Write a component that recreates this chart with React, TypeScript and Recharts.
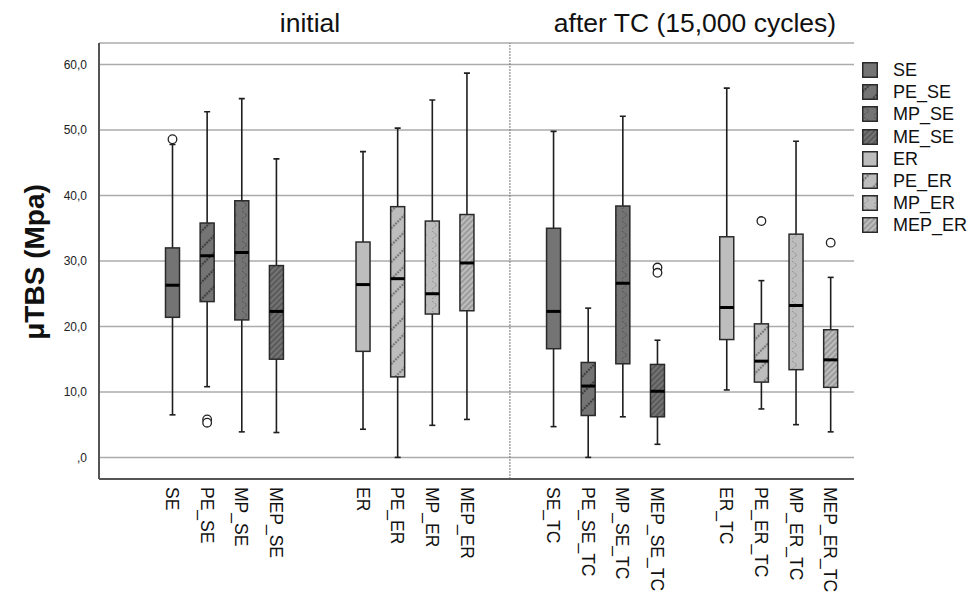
import React from 'react';
import { ComposedChart, Bar, XAxis, YAxis, CartesianGrid, ReferenceLine } from 'recharts';

const categories = [
  'SE', 'PE_SE', 'MP_SE', 'MEP_SE', 'ER', 'PE_ER', 'MP_ER', 'MEP_ER',
  'SE_TC', 'PE_SE_TC', 'MP_SE_TC', 'MEP_SE_TC', 'ER_TC', 'PE_ER_TC', 'MP_ER_TC', 'MEP_ER_TC',
];
const whiskerLow = [6.5, 10.8, 3.9, 3.8, 4.3, 0, 4.9, 5.8, 4.7, 0, 6.2, 2.0, 10.3, 7.4, 5.0, 3.9];
const q1 = [21.4, 23.8, 21.0, 15.0, 16.2, 12.3, 21.9, 22.4, 16.6, 6.4, 14.3, 6.2, 18.0, 11.5, 13.4, 10.7];
const median = [26.3, 30.8, 31.3, 22.3, 26.4, 27.3, 25.0, 29.7, 22.3, 10.9, 26.6, 10.1, 22.9, 14.7, 23.2, 14.9];
const q3 = [32.0, 35.8, 39.2, 29.3, 32.9, 38.3, 36.1, 37.1, 35.0, 14.5, 38.4, 14.2, 33.7, 20.4, 34.1, 19.5];
const whiskerHigh = [47.8, 52.8, 54.8, 45.6, 46.7, 50.3, 54.6, 58.7, 49.8, 22.8, 52.1, 17.9, 56.4, 27.0, 48.3, 27.5];
const outliers = [[48.6], [5.8, 5.3], [], [], [], [], [], [], [], [], [], [29.0, 28.2], [], [36.1], [], [32.8]];

const legendLabels = ['SE', 'PE_SE', 'MP_SE', 'ME_SE', 'ER', 'PE_ER', 'MP_ER', 'MEP_ER'];
const yTicks = [0, 10, 20, 30, 40, 50, 60];
const panelTitles = ['initial', 'after TC (15,000 cycles)'];

const FONT = '"Liberation Sans", Arial, sans-serif';

// slot layout of the clustered axis (each box sits on every 2nd slot)
const groupStarts = [0, 11, 22, 32];
const STEP = 2;
const SLOT_COUNT = 39;
const DIVIDER_SLOT = 20;

const kinds = ['solid', 'pe', 'mp', 'mep'];
const fillId = (style: number) => `${kinds[style % 4]}-${style < 4 ? 'dark' : 'light'}`;

const slotRows: any[] = Array.from({ length: SLOT_COUNT }, (_, s) => ({ name: `gap${s}` }));
categories.forEach((c, i) => {
  const s = groupStarts[Math.floor(i / 4)] + (i % 4) * STEP;
  slotRows[s] = {
    name: c,
    range: [whiskerLow[i], whiskerHigh[i]],
    q1: q1[i],
    med: median[i],
    q3: q3[i],
    out: outliers[i],
    style: i % 8,
  };
});

const tones = [
  { name: 'dark', base: '#747474', line: '#3f3f3f' },
  { name: 'light', base: '#bdbdbd', line: '#7a7a7a' },
];

function Patterns() {
  return (
    <defs>
      {tones.map((t) => (
        <React.Fragment key={t.name}>
          <pattern id={`solid-${t.name}`} width={4} height={4} patternUnits="userSpaceOnUse">
            <rect width={4} height={4} fill={t.base} />
          </pattern>
          <pattern id={`pe-${t.name}`} width={12} height={12} patternUnits="userSpaceOnUse" patternTransform="rotate(45)">
            <rect width={12} height={12} fill={t.base} />
            <line x1={6} y1={0} x2={6} y2={12} stroke={t.line} strokeWidth={2.2} strokeDasharray="2 1" />
          </pattern>
          <pattern id={`mp-${t.name}`} width={10} height={10} patternUnits="userSpaceOnUse">
            <rect width={10} height={10} fill={t.base} />
            <path d="M2 1 L7 5 L2 9" fill="none" stroke={t.line} strokeWidth={0.9} strokeDasharray="1 1" />
          </pattern>
          <pattern id={`mep-${t.name}`} width={4} height={4} patternUnits="userSpaceOnUse" patternTransform="rotate(45)">
            <rect width={4} height={4} fill={t.base} />
            <line x1={2} y1={0} x2={2} y2={4} stroke={t.line} strokeWidth={1} />
          </pattern>
        </React.Fragment>
      ))}
    </defs>
  );
}

function BoxShape(props: any) {
  const { x, y, width, height, payload } = props;
  if (!payload || !payload.range) return <g />;
  const [lo, hi] = payload.range;
  const top = Math.min(y, y + height);
  const bottom = Math.max(y, y + height);
  const toY = (v: number) => bottom - ((v - lo) / (hi - lo)) * (bottom - top);
  const cx = x + width / 2;
  const yHi = toY(hi);
  const yLo = toY(lo);
  const yQ3 = toY(payload.q3);
  const yQ1 = toY(payload.q1);
  const yMed = toY(payload.med);
  const stroke = '#1e1e1e';
  return (
    <g>
      <line x1={cx} x2={cx} y1={yHi} y2={yQ3} stroke={stroke} strokeWidth={1.6} />
      <line x1={cx} x2={cx} y1={yQ1} y2={yLo} stroke={stroke} strokeWidth={1.6} />
      <line x1={cx - 3} x2={cx + 3} y1={yHi} y2={yHi} stroke={stroke} strokeWidth={1.6} />
      <line x1={cx - 3} x2={cx + 3} y1={yLo} y2={yLo} stroke={stroke} strokeWidth={1.6} />
      <rect
        x={x}
        y={yQ3}
        width={width}
        height={yQ1 - yQ3}
        fill={`url(#${fillId(payload.style)})`}
        stroke="#2a2a2a"
        strokeWidth={1.5}
      />
      <line x1={x} x2={x + width} y1={yMed} y2={yMed} stroke="#000" strokeWidth={3} />
      {payload.out.map((v: number, k: number) => (
        <circle key={k} cx={cx} cy={toY(v)} r={4.3} fill="#fff" stroke="#222" strokeWidth={1.3} />
      ))}
    </g>
  );
}

function SlotTick(props: any) {
  const { x, y, payload } = props;
  const v = String(payload.value);
  if (v.startsWith('gap')) return <g />;
  return (
    <text
      x={0}
      y={0}
      transform={`translate(${x},${y}) rotate(90)`}
      textAnchor="start"
      dominantBaseline="central"
      fontSize={17.5}
      fill="#111"
      fontFamily={FONT}
    >
      {v}
    </text>
  );
}

const fmtY = (v: number) => (v === 0 ? ',0' : `${v},0`);

export default function App() {
  return (
    <div style={{ position: 'absolute', left: 0, top: 0, width: 972, height: 604, background: '#fff', fontFamily: FONT }}>
      <ComposedChart
        width={972}
        height={604}
        data={slotRows}
        margin={{ top: 43, right: 118, bottom: 15, left: 39 }}
      >
        <Patterns />
        <CartesianGrid vertical={false} stroke="#ababab" strokeWidth={1.5} />
        <XAxis
          dataKey="name"
          interval={0}
          tick={<SlotTick />}
          tickLine={false}
          axisLine={{ stroke: '#555', strokeWidth: 2 }}
          height={110}
          padding={{ left: 64.5, right: 15 }}
        />
        <YAxis
          domain={[-3.3, 63.3]}
          ticks={yTicks}
          allowDataOverflow
          tickFormatter={fmtY}
          tickLine={false}
          axisLine={{ stroke: '#555', strokeWidth: 2 }}
          width={60}
          tickMargin={6}
          tick={{ fontSize: 12, fill: '#222', fontFamily: FONT }}
        />
        <ReferenceLine x={`gap${DIVIDER_SLOT}`} position="start" stroke="#777" strokeDasharray="2 1" />
        <Bar dataKey="range" barSize={14} shape={BoxShape} isAnimationActive={false} />
      </ComposedChart>

      {panelTitles.map((t, i) => (
        <div
          key={t}
          style={{
            position: 'absolute',
            left: i === 0 ? 310 : 695,
            top: 10,
            transform: 'translateX(-50%)',
            fontSize: 26.5,
            lineHeight: '26px',
            whiteSpace: 'nowrap',
            color: '#111',
          }}
        >
          {t}
        </div>
      ))}

      <div
        style={{
          position: 'absolute',
          left: 35,
          top: 262,
          transform: 'translate(-50%, -50%) rotate(-90deg)',
          fontSize: 28,
          fontWeight: 'bold',
          whiteSpace: 'nowrap',
          color: '#111',
        }}
      >
        μTBS (Mpa)
      </div>

      {legendLabels.map((l, i) => (
        <div
          key={l}
          style={{ position: 'absolute', left: 862, top: 62 + i * 22.2, height: 16, display: 'flex', alignItems: 'center' }}
        >
          <svg width={16} height={16} style={{ display: 'block' }}>
            <rect x={0.75} y={0.75} width={14.5} height={14.5} fill={`url(#${fillId(i)})`} stroke="#2a2a2a" strokeWidth={1.5} />
          </svg>
          <span style={{ marginLeft: 15, fontSize: 18, color: '#111', lineHeight: '16px' }}>{l}</span>
        </div>
      ))}
    </div>
  );
}
